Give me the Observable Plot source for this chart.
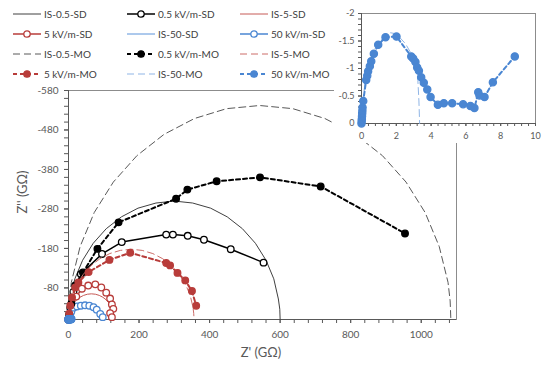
<!DOCTYPE html>
<html><head><meta charset="utf-8">
<script src="https://cdn.jsdelivr.net/npm/d3@7"></script>
<script src="https://cdn.jsdelivr.net/npm/@observablehq/plot@0.6"></script>
<style>
body{margin:0;background:#fff;}
#wrap{position:relative;width:550px;height:367px;overflow:hidden;font-family:Lato,"Liberation Sans",sans-serif;color:#404040;}
#main,#inset{position:absolute;}
#main{left:0;top:0;}
#inset{left:334px;top:0;background:#fff;}
.leg{position:absolute;display:flex;align-items:center;height:12px;font-size:10px;color:#404040;white-space:nowrap;}
.leg svg{margin-right:3px;}
.title{position:absolute;white-space:nowrap;color:#595959;}
</style></head><body>
<div id="wrap"><div id="main"></div><div id="inset"></div></div>
<script>
// ---- data (Z' in GΩ, Z'' in GΩ, negative as on the chart) ----
const is05sdX = [0,1.2,4.6,18,40,70,107,150,197,248,300,352,403,450,493,530,560,582,595,599,600];
const is05sdY = [0,-26,-52,-103,-150,-193,-230,-260,-282,-295,-300,-295,-282,-260,-230,-193,-150,-103,-52,-26,0];
const kv05sdX = [0,5,14,35,95,151,277,296,338,384,460,553];
const kv05sdY = [0,-30,-70,-115,-166,-196,-215,-215,-212,-202,-178,-144];
const is5sdX = [0,1,3.9,8.7,15.2,23.2,32.5,42.8,53.7,65,76.3,87.2,97.5,106.8,114.8,121.3,126.1,129,130];
const is5sdY = [0,-11.3,-22.2,-32.5,-41.8,-49.8,-56.3,-61.1,-64,-65,-64,-61.1,-56.3,-49.8,-41.8,-32.5,-22.2,-11.3,0];
const kv5sdX = [0,3,10,22,38,56,76,93,107,118,123,127,118,123];
const kv5sdY = [0,-15,-33,-58,-78,-86,-89,-81,-68,-53,-38,-27,-16,-6];
const is50sdX = [0,0.7,2.9,6.4,11.2,17.1,24,31.6,39.7,48,56.3,64.4,72,78.9,84.8,89.6,93.1,95.3,96];
const is50sdY = [0,-8,-16,-23,-29,-33,-36,-38,-39,-39,-38,-36,-33,-29,-24,-18,-12,-6,0];
const kv50sdX = [0,1,5,8,14,24,35,47,59,71,80,90,97];
const kv50sdY = [0,-3,-13,-20,-30,-33,-35,-36,-35,-31,-25,-14,-6];
const is05moX = [0,2,8,33,73,127,194,271,357,448,542,636,727,813,890,957,1011,1051,1076,1082,1084];
const is05moY = [0,-47,-94,-185,-271,-348,-415,-469,-509,-534,-542,-534,-509,-469,-415,-348,-271,-185,-94,-47,0];
const kv05moX = [0,2,8,19,41,82,142,305,337,420,543,715,954];
const kv05moY = [0,-12,-40,-86,-119,-179,-246,-306,-329,-350,-360,-337,-218];
const is5moX = [0,0.7,2.7,10.7,23.8,41.6,63.6,89,117,147,178,209,239,267,292,314,332,345,353,355,356];
const is5moY = [0,-15.5,-31,-61,-89,-114,-136,-154,-167,-175,-178,-175,-167,-154,-136,-114,-89,-61,-31,-15.5,0];
const kv5moX = [0,2,5,10,19,28,57,116,175,277,288,309,331,350,362];
const kv5moY = [0,-15,-35,-56,-81,-94,-120,-151,-169,-143,-137,-118,-99,-72,-35];
const is50moX = [0,0.1,0.21,0.42,0.71,1.09,1.67,2.0,2.53,2.91,3.16,3.24,3.3,3.34];
const is50moY = [0,-0.46,-0.76,-1.09,-1.33,-1.51,-1.65,-1.63,-1.45,-1.24,-1.02,-0.78,-0.41,0];
const kv50moX = [0,0.01,0.02,0.03,0.04,0.05,0.06,0.1,0.27,0.33,0.38,0.48,0.56,0.71,0.96,1.38,2.01,2.86,2.97,3.1,3.2,3.3,3.43,3.58,3.78,3.97,4.39,4.73,5.21,5.84,6.26,6.49,6.71,6.78,7.07,7.55,8.81];
const kv50moY = [0,-0.04,-0.08,-0.13,-0.18,-0.23,-0.29,-0.41,-0.79,-0.87,-0.95,-1.04,-1.13,-1.27,-1.43,-1.57,-1.58,-1.22,-1.18,-1.12,-1.02,-0.96,-0.84,-0.74,-0.62,-0.48,-0.34,-0.37,-0.37,-0.35,-0.32,-0.28,-0.57,-0.51,-0.48,-0.75,-1.22];

const seriesNames = ["IS-0.5-SD","0.5 kV/m-SD","IS-5-SD","5 kV/m-SD","IS-50-SD","50 kV/m-SD","IS-0.5-MO","0.5 kV/m-MO","IS-5-MO","5 kV/m-MO","IS-50-MO","50 kV/m-MO"];
const xTicks = [0,200,400,600,800,1000];
const yTicks = [-580,-480,-380,-280,-180,-80];
const insetXTicks = [0,2,4,6,8,10];
const insetYTicks = [-2,-1.5,-1,-0.5,0];

// ---- styles ----
const RED = "#b83c3a", BLUE = "#4a86d2";
const styles = [
  {x:is05sdX,y:is05sdY,color:"#404040",w:1,dash:null,marker:null},
  {x:kv05sdX,y:kv05sdY,color:"#000",w:1.5,dash:null,marker:"open",mc:"#000"},
  {x:is5sdX,y:is5sdY,color:"#c65a56",w:1,dash:null,marker:null},
  {x:kv5sdX,y:kv5sdY,color:RED,w:1.5,dash:null,marker:"open",mc:RED},
  {x:is50sdX,y:is50sdY,color:"#5a93da",w:1,dash:null,marker:null},
  {x:kv50sdX,y:kv50sdY,color:BLUE,w:1.5,dash:null,marker:"open",mc:BLUE},
  {x:is05moX,y:is05moY,color:"#595959",w:1,dash:"7,4",marker:null},
  {x:kv05moX,y:kv05moY,color:"#000",w:2,dash:"4,3",marker:"filled",mc:"#000"},
  {x:is5moX,y:is5moY,color:"#cc6d69",w:1,dash:"7,4",marker:null},
  {x:kv5moX,y:kv5moY,color:RED,w:2,dash:"4,3",marker:"filled",mc:RED},
  {x:is50moX,y:is50moY,color:"#8fb5e6",w:1,dash:"7,4",marker:null},
  {x:kv50moX,y:kv50moY,color:BLUE,w:2,dash:"4,3",marker:"filled",mc:BLUE}
];
const series = styles.map((s,i)=>({...s,name:seriesNames[i],data:s.x.map((v,j)=>({x:v,y:s.y[j]}))}));

function seriesMarks(list, r){
  const m=[];
  for(const s of list){
    m.push(Plot.line(s.data,{x:"x",y:"y",stroke:s.color,strokeWidth:s.w,strokeDasharray:s.dash,curve:"linear"}));
    if(s.marker) m.push(Plot.dot(s.data,{x:"x",y:"y",r,fill:s.marker==="open"?"#fff":s.mc,stroke:s.mc,strokeWidth:1.3}));
  }
  return m;
}

const font = {fontFamily:"Lato, 'Liberation Sans', sans-serif",fontSize:"10px",color:"#595959",background:"transparent",overflow:"visible"};

const main = Plot.plot({
  width:550,height:367,marginLeft:68,marginRight:94,marginTop:90,marginBottom:48,
  x:{domain:[0,1100],label:null},y:{domain:[0,-580],label:null},
  style:font,
  marks:[
    Plot.frame({stroke:"#8c8c8c"}),
    Plot.axisX(d3.range(0,1100,40),{tickSize:4,tickFormat:()=>"",stroke:"#595959",label:null}),
    Plot.axisX(xTicks,{tickSize:4,tickPadding:7,tickFormat:d=>String(d),fill:"#595959",stroke:"#595959",label:null}),
    Plot.axisY(d3.range(0,-581,-20),{tickSize:4,tickFormat:()=>"",stroke:"#595959",label:null}),
    Plot.axisY(yTicks,{tickSize:4,tickPadding:6,tickFormat:d=>String(d),fill:"#595959",stroke:"#595959",label:null}),
    Plot.ruleY([0],{stroke:"#595959"}),
    Plot.ruleX([0],{stroke:"#595959"}),
    ...seriesMarks(series,3.3)
  ]
});
document.getElementById("main").appendChild(main);

const insetSeries = series.filter(s=>s.name==="IS-50-MO"||s.name==="50 kV/m-MO");
const inset = Plot.plot({
  width:216,height:143,marginLeft:27,marginRight:15,marginTop:13,marginBottom:20,
  x:{domain:[0,10],label:null},y:{domain:[0,-2],label:null},
  style:{...font,fontSize:"9px",background:"#fff"},
  marks:[
    Plot.frame({stroke:"#8c8c8c"}),
    Plot.axisX(d3.range(0,10.01,0.4),{tickSize:3,tickFormat:()=>"",stroke:"#595959",label:null}),
    Plot.axisX(insetXTicks,{tickSize:3,tickPadding:6,tickFormat:d=>String(d),fill:"#595959",stroke:"#595959",label:null}),
    Plot.axisY(d3.range(0,-2.001,-0.1),{tickSize:3,tickFormat:()=>"",stroke:"#595959",label:null}),
    Plot.axisY(insetYTicks,{tickSize:3,tickPadding:4,tickFormat:d=>String(d),fill:"#595959",stroke:"#595959",label:null}),
    Plot.ruleY([0],{stroke:"#595959"}),
    Plot.ruleX([0],{stroke:"#595959"}),
    ...seriesMarks(insetSeries,3.6)
  ]
});
document.getElementById("inset").appendChild(inset);

// ---- legend ----
const wrap = document.getElementById("wrap");
const colX = [13,127,240], rowY = [14,34,54,74];
series.forEach((s,i)=>{
  const div = document.createElement("div");
  div.className="leg";
  div.style.left = colX[i%3]+"px";
  div.style.top = (rowY[Math.floor(i/3)]-6)+"px";
  const svg = d3.create("svg").attr("width",28).attr("height",10);
  svg.append("line").attr("x1",0).attr("x2",28).attr("y1",5).attr("y2",5)
    .attr("stroke",s.color).attr("stroke-width",s.w).attr("stroke-dasharray",s.dash);
  if(s.marker) svg.append("circle").attr("cx",14).attr("cy",5).attr("r",3.2)
    .attr("fill",s.marker==="open"?"#fff":s.mc).attr("stroke",s.mc).attr("stroke-width",1.3);
  div.appendChild(svg.node());
  const t=document.createElement("span"); t.textContent=s.name; div.appendChild(t);
  wrap.appendChild(div);
});

// ---- axis titles ----
const xt=document.createElement("div"); xt.className="title"; xt.textContent="Z' (GΩ)";
xt.style.cssText+="left:261px;top:352px;font-size:13px;transform:translate(-50%,-50%);";
wrap.appendChild(xt);
const yt=document.createElement("div"); yt.className="title"; yt.textContent="Z'' (GΩ)";
yt.style.cssText+="left:22px;top:192px;font-size:13px;transform:translate(-50%,-50%) rotate(-90deg);";
wrap.appendChild(yt);
</script>
</body></html>
